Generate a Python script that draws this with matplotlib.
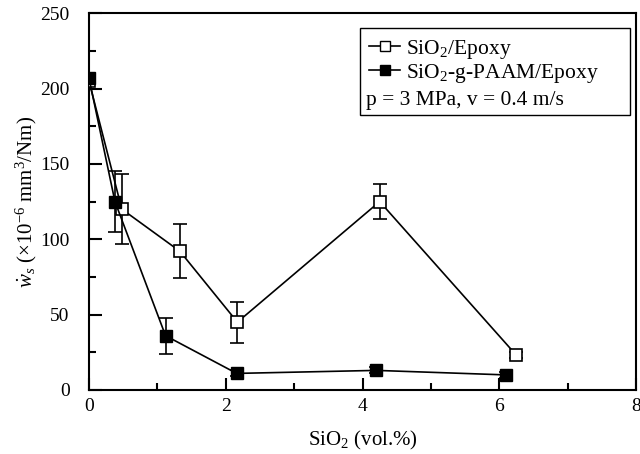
import matplotlib
matplotlib.use("Agg")
import matplotlib.pyplot as plt
from matplotlib.ticker import MultipleLocator
from matplotlib.lines import Line2D
from matplotlib.patches import Rectangle

plt.rcParams['font.family'] = ['Liberation Serif', 'DejaVu Serif']
plt.rcParams['mathtext.fontset'] = 'custom'
plt.rcParams['mathtext.rm'] = 'Liberation Serif'
plt.rcParams['mathtext.it'] = 'Liberation Serif:italic'

# SiO2/Epoxy (open squares)
x_open = [0, 0.48, 1.33, 2.17, 4.25, 6.25]
y_open = [205, 120, 92, 45, 125, 23]
err_open = [0, 23, 18, 13.5, 11.5, 2]

# SiO2-g-PAAM/Epoxy (filled squares)
x_fill = [0, 0.38, 1.12, 2.16, 4.2, 6.1]
y_fill = [207, 125, 36, 11, 13, 10]
err_fill = [0, 20, 12, 2, 2, 2]

fig = plt.figure(figsize=(6.4, 4.54), dpi=100)
ax = fig.add_axes([0.139, 0.141, 0.855, 0.830])

ax.errorbar(x_open, y_open, yerr=err_open, color='black', lw=1.2,
            marker='s', ms=8, mfc='white', mec='black', mew=1.2,
            capsize=5, elinewidth=1.2, capthick=1.2, zorder=3)
ax.errorbar(x_fill, y_fill, yerr=err_fill, color='black', lw=1.2,
            marker='s', ms=8, mfc='black', mec='black',
            capsize=5, elinewidth=1.2, capthick=1.2, zorder=4)

ax.set_xlim(0, 8)
ax.set_ylim(0, 250)
ax.xaxis.set_major_locator(MultipleLocator(2))
ax.xaxis.set_minor_locator(MultipleLocator(1))
ax.yaxis.set_major_locator(MultipleLocator(50))
ax.yaxis.set_minor_locator(MultipleLocator(25))
ax.tick_params(which='both', direction='in', top=False, right=False, labelsize=14, width=1.5)
ax.tick_params(axis='y', which='major', pad=14)
ax.tick_params(axis='x', which='major', pad=6)
ax.tick_params(which='major', length=9)
ax.tick_params(which='minor', length=5)
for s in ax.spines.values():
    s.set_linewidth(1.5)

ax.set_xlabel('SiO$_2$ (vol.%)', fontsize=15, labelpad=10)
ax.set_ylabel(r'$\dot{w}_s$ (×10$^{-6}$ mm$^3$/Nm)', fontsize=15, labelpad=1)

# legend box
ax.add_patch(Rectangle((0.495, 0.729), 0.494, 0.231, transform=ax.transAxes,
                       fill=False, edgecolor='black', lw=1.0, zorder=5))
handles = [
    Line2D([], [], color='black', marker='s', mfc='white', mec='black', ms=7, lw=1.2),
    Line2D([], [], color='black', marker='s', mfc='black', mec='black', ms=7, lw=1.2),
]
labels = ['SiO$_2$/Epoxy', 'SiO$_2$-g-PAAM/Epoxy']
ax.legend(handles, labels, loc='upper left', bbox_to_anchor=(0.512, 0.935),
          fontsize=15.5, frameon=False, borderpad=0, borderaxespad=0,
          handlelength=1.45, handletextpad=0.25, labelspacing=0.05)
ax.text(0.507, 0.769, 'p = 3 MPa, v = 0.4 m/s', transform=ax.transAxes,
        fontsize=15.5, ha='left', va='center')

fig.savefig('out.png', dpi=100)
